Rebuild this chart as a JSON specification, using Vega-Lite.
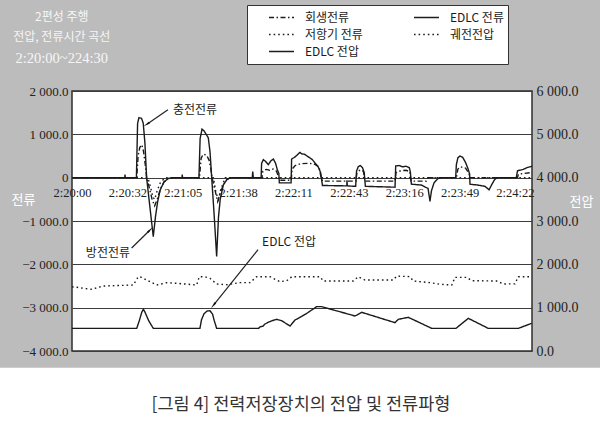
{
"$schema":"https://vega.github.io/schema/vega-lite/v6.json",
"width":460,"height":260,
"autosize":{"type":"none"},
"padding":{"left":72,"top":91,"right":68,"bottom":83},
"background":"#bcbcbc",
"config":{"view":{"fill":"white","stroke":"#2e2e2e","strokeWidth":1.5}},
"datasets":{
"cur":[
{"t":0,"I":0,"s":"EDLC 전류"},{"t":31,"I":0,"s":"EDLC 전류"},{"t":31.1,"I":70,"s":"EDLC 전류"},{"t":31.3,"I":0,"s":"EDLC 전류"},{"t":37.8,"I":0,"s":"EDLC 전류"},{"t":38.5,"I":1250,"s":"EDLC 전류"},{"t":39.3,"I":1385,"s":"EDLC 전류"},{"t":40.8,"I":1370,"s":"EDLC 전류"},{"t":41.8,"I":1260,"s":"EDLC 전류"},{"t":42.8,"I":800,"s":"EDLC 전류"},{"t":43.8,"I":0,"s":"EDLC 전류"},{"t":45.5,"I":-600,"s":"EDLC 전류"},{"t":47.7,"I":-1360,"s":"EDLC 전류"},{"t":49.0,"I":-900,"s":"EDLC 전류"},{"t":50.3,"I":-550,"s":"EDLC 전류"},{"t":51.8,"I":-280,"s":"EDLC 전류"},{"t":54,"I":-100,"s":"EDLC 전류"},{"t":56.5,"I":-20,"s":"EDLC 전류"},{"t":59,"I":0,"s":"EDLC 전류"},{"t":64.6,"I":0,"s":"EDLC 전류"},{"t":64.7,"I":70,"s":"EDLC 전류"},{"t":64.9,"I":0,"s":"EDLC 전류"},{"t":74.5,"I":0,"s":"EDLC 전류"},{"t":75.2,"I":900,"s":"EDLC 전류"},{"t":76.3,"I":1120,"s":"EDLC 전류"},{"t":77.5,"I":1080,"s":"EDLC 전류"},{"t":80,"I":920,"s":"EDLC 전류"},{"t":81,"I":600,"s":"EDLC 전류"},{"t":82,"I":0,"s":"EDLC 전류"},{"t":83.5,"I":-900,"s":"EDLC 전류"},{"t":84.9,"I":-1816,"s":"EDLC 전류"},{"t":86,"I":-900,"s":"EDLC 전류"},{"t":87,"I":-500,"s":"EDLC 전류"},{"t":88.8,"I":-170,"s":"EDLC 전류"},{"t":91,"I":-40,"s":"EDLC 전류"},{"t":93,"I":0,"s":"EDLC 전류"},{"t":105.8,"I":0,"s":"EDLC 전류"},{"t":106.1,"I":140,"s":"EDLC 전류"},{"t":106.4,"I":0,"s":"EDLC 전류"},{"t":111.0,"I":0,"s":"EDLC 전류"},{"t":111.3,"I":330,"s":"EDLC 전류"},{"t":112.3,"I":415,"s":"EDLC 전류"},{"t":113.5,"I":380,"s":"EDLC 전류"},{"t":115.2,"I":300,"s":"EDLC 전류"},{"t":116.8,"I":390,"s":"EDLC 전류"},{"t":118.2,"I":430,"s":"EDLC 전류"},{"t":119.5,"I":330,"s":"EDLC 전류"},{"t":120.5,"I":185,"s":"EDLC 전류"},{"t":121.4,"I":100,"s":"EDLC 전류"},{"t":121.7,"I":-120,"s":"EDLC 전류"},{"t":128.6,"I":-120,"s":"EDLC 전류"},{"t":128.9,"I":430,"s":"EDLC 전류"},{"t":131,"I":480,"s":"EDLC 전류"},{"t":133.8,"I":584,"s":"EDLC 전류"},{"t":134.8,"I":550,"s":"EDLC 전류"},{"t":136.5,"I":540,"s":"EDLC 전류"},{"t":138.7,"I":480,"s":"EDLC 전류"},{"t":141,"I":420,"s":"EDLC 전류"},{"t":142.6,"I":340,"s":"EDLC 전류"},{"t":144.5,"I":250,"s":"EDLC 전류"},{"t":146.0,"I":110,"s":"EDLC 전류"},{"t":147.0,"I":-180,"s":"EDLC 전류"},{"t":161.3,"I":-190,"s":"EDLC 전류"},{"t":161.4,"I":-60,"s":"EDLC 전류"},{"t":161.6,"I":-190,"s":"EDLC 전류"},{"t":166.5,"I":-200,"s":"EDLC 전류"},{"t":167.0,"I":150,"s":"EDLC 전류"},{"t":168.0,"I":250,"s":"EDLC 전류"},{"t":169.2,"I":280,"s":"EDLC 전류"},{"t":170.5,"I":230,"s":"EDLC 전류"},{"t":171.5,"I":120,"s":"EDLC 전류"},{"t":172.2,"I":-200,"s":"EDLC 전류"},{"t":189.6,"I":-220,"s":"EDLC 전류"},{"t":190.0,"I":270,"s":"EDLC 전류"},{"t":192,"I":280,"s":"EDLC 전류"},{"t":194,"I":250,"s":"EDLC 전류"},{"t":196,"I":265,"s":"EDLC 전류"},{"t":198.0,"I":230,"s":"EDLC 전류"},{"t":198.6,"I":130,"s":"EDLC 전류"},{"t":199.2,"I":-150,"s":"EDLC 전류"},{"t":205,"I":-170,"s":"EDLC 전류"},{"t":209,"I":-250,"s":"EDLC 전류"},{"t":210.1,"I":-546,"s":"EDLC 전류"},{"t":211.0,"I":-300,"s":"EDLC 전류"},{"t":212.5,"I":-120,"s":"EDLC 전류"},{"t":214.8,"I":-20,"s":"EDLC 전류"},{"t":216.5,"I":0,"s":"EDLC 전류"},{"t":225.2,"I":0,"s":"EDLC 전류"},{"t":225.6,"I":300,"s":"EDLC 전류"},{"t":226.5,"I":460,"s":"EDLC 전류"},{"t":227.7,"I":500,"s":"EDLC 전류"},{"t":229.3,"I":470,"s":"EDLC 전류"},{"t":231.0,"I":350,"s":"EDLC 전류"},{"t":232.5,"I":200,"s":"EDLC 전류"},{"t":233.4,"I":80,"s":"EDLC 전류"},{"t":233.6,"I":-150,"s":"EDLC 전류"},{"t":238,"I":-170,"s":"EDLC 전류"},{"t":242.4,"I":-200,"s":"EDLC 전류"},{"t":244.8,"I":-280,"s":"EDLC 전류"},{"t":246.5,"I":-150,"s":"EDLC 전류"},{"t":248,"I":-50,"s":"EDLC 전류"},{"t":249.3,"I":0,"s":"EDLC 전류"},{"t":260.8,"I":0,"s":"EDLC 전류"},{"t":261.5,"I":160,"s":"EDLC 전류"},{"t":264.9,"I":190,"s":"EDLC 전류"},{"t":267,"I":230,"s":"EDLC 전류"},{"t":270,"I":265,"s":"EDLC 전류"},
{"t":0,"I":0,"s":"회생전류"},{"t":38.0,"I":0,"s":"회생전류"},{"t":38.8,"I":500,"s":"회생전류"},{"t":39.8,"I":700,"s":"회생전류"},{"t":41.0,"I":760,"s":"회생전류"},{"t":42.0,"I":600,"s":"회생전류"},{"t":43.0,"I":300,"s":"회생전류"},{"t":43.8,"I":0,"s":"회생전류"},{"t":45.5,"I":-250,"s":"회생전류"},{"t":47.0,"I":-500,"s":"회생전류"},{"t":48.5,"I":-650,"s":"회생전류"},{"t":50,"I":-500,"s":"회생전류"},{"t":52,"I":-250,"s":"회생전류"},{"t":54,"I":-100,"s":"회생전류"},{"t":57,"I":0,"s":"회생전류"},{"t":74.8,"I":0,"s":"회생전류"},{"t":75.8,"I":450,"s":"회생전류"},{"t":77,"I":540,"s":"회생전류"},{"t":79,"I":520,"s":"회생전류"},{"t":80.5,"I":400,"s":"회생전류"},{"t":81.5,"I":200,"s":"회생전류"},{"t":82.2,"I":0,"s":"회생전류"},{"t":84,"I":-300,"s":"회생전류"},{"t":85.5,"I":-550,"s":"회생전류"},{"t":87,"I":-350,"s":"회생전류"},{"t":89,"I":-150,"s":"회생전류"},{"t":91,"I":-40,"s":"회생전류"},{"t":93,"I":0,"s":"회생전류"},{"t":111.5,"I":0,"s":"회생전류"},{"t":112,"I":150,"s":"회생전류"},{"t":114,"I":190,"s":"회생전류"},{"t":116,"I":170,"s":"회생전류"},{"t":118,"I":200,"s":"회생전류"},{"t":120,"I":150,"s":"회생전류"},{"t":121.5,"I":0,"s":"회생전류"},{"t":121.7,"I":-60,"s":"회생전류"},{"t":128.7,"I":-60,"s":"회생전류"},{"t":129.2,"I":200,"s":"회생전류"},{"t":131,"I":280,"s":"회생전류"},{"t":134,"I":320,"s":"회생전류"},{"t":138,"I":330,"s":"회생전류"},{"t":142,"I":320,"s":"회생전류"},{"t":145,"I":250,"s":"회생전류"},{"t":146.2,"I":0,"s":"회생전류"},{"t":147,"I":-80,"s":"회생전류"},{"t":166.6,"I":-80,"s":"회생전류"},{"t":167.2,"I":100,"s":"회생전류"},{"t":169,"I":180,"s":"회생전류"},{"t":171,"I":150,"s":"회생전류"},{"t":172,"I":-80,"s":"회생전류"},{"t":189.6,"I":-80,"s":"회생전류"},{"t":190.2,"I":120,"s":"회생전류"},{"t":193,"I":160,"s":"회생전류"},{"t":196,"I":170,"s":"회생전류"},{"t":198.3,"I":140,"s":"회생전류"},{"t":199,"I":-80,"s":"회생전류"},{"t":208,"I":-80,"s":"회생전류"},{"t":209,"I":0,"s":"회생전류"},{"t":225.6,"I":0,"s":"회생전류"},{"t":226.5,"I":200,"s":"회생전류"},{"t":228,"I":250,"s":"회생전류"},{"t":231,"I":220,"s":"회생전류"},{"t":233,"I":100,"s":"회생전류"},{"t":233.6,"I":0,"s":"회생전류"},{"t":261.5,"I":0,"s":"회생전류"},{"t":262,"I":80,"s":"회생전류"},{"t":270,"I":120,"s":"회생전류"},
{"t":0,"I":0,"s":"저항기 전류"},{"t":44.5,"I":0,"s":"저항기 전류"},{"t":46,"I":-200,"s":"저항기 전류"},{"t":47.5,"I":-450,"s":"저항기 전류"},{"t":48.5,"I":-500,"s":"저항기 전류"},{"t":50,"I":-300,"s":"저항기 전류"},{"t":52,"I":-100,"s":"저항기 전류"},{"t":55,"I":0,"s":"저항기 전류"},{"t":83,"I":0,"s":"저항기 전류"},{"t":84.5,"I":-350,"s":"저항기 전류"},{"t":86,"I":-500,"s":"저항기 전류"},{"t":87.5,"I":-250,"s":"저항기 전류"},{"t":90,"I":0,"s":"저항기 전류"},{"t":270,"I":0,"s":"저항기 전류"}
],
"vol":[
{"t":0,"V":1480,"s":"궤전전압"},{"t":2.8,"V":1470,"s":"궤전전압"},{"t":8,"V":1440,"s":"궤전전압"},{"t":11.6,"V":1424,"s":"궤전전압"},{"t":18.4,"V":1500,"s":"궤전전압"},{"t":36.0,"V":1523,"s":"궤전전압"},{"t":38.9,"V":1715,"s":"궤전전압"},{"t":41,"V":1700,"s":"궤전전압"},{"t":43.8,"V":1638,"s":"궤전전압"},{"t":49.7,"V":1523,"s":"궤전전압"},{"t":55.6,"V":1577,"s":"궤전전압"},{"t":62,"V":1560,"s":"궤전전압"},{"t":73.2,"V":1523,"s":"궤전전압"},{"t":74.7,"V":1715,"s":"궤전전압"},{"t":78,"V":1715,"s":"궤전전압"},{"t":81.0,"V":1677,"s":"궤전전압"},{"t":84.9,"V":1546,"s":"궤전전압"},{"t":91,"V":1530,"s":"궤전전압"},{"t":98.6,"V":1577,"s":"궤전전압"},{"t":104.5,"V":1577,"s":"궤전전압"},{"t":108.4,"V":1715,"s":"궤전전압"},{"t":116.2,"V":1715,"s":"궤전전압"},{"t":122.1,"V":1600,"s":"궤전전압"},{"t":126,"V":1620,"s":"궤전전압"},{"t":129.0,"V":1715,"s":"궤전전압"},{"t":145.6,"V":1715,"s":"궤전전압"},{"t":147.5,"V":1615,"s":"궤전전압"},{"t":165.1,"V":1615,"s":"궤전전압"},{"t":168.0,"V":1715,"s":"궤전전압"},{"t":172.0,"V":1638,"s":"궤전전압"},{"t":188.6,"V":1638,"s":"궤전전압"},{"t":190.6,"V":1730,"s":"궤전전압"},{"t":198.4,"V":1715,"s":"궤전전압"},{"t":200.3,"V":1615,"s":"궤전전압"},{"t":210.1,"V":1577,"s":"궤전전압"},{"t":216,"V":1540,"s":"궤전전압"},{"t":222.9,"V":1523,"s":"궤전전압"},{"t":224.8,"V":1700,"s":"궤전전압"},{"t":231.7,"V":1700,"s":"궤전전압"},{"t":234.6,"V":1623,"s":"궤전전압"},{"t":249.3,"V":1615,"s":"궤전전압"},{"t":253.2,"V":1546,"s":"궤전전압"},{"t":260.0,"V":1550,"s":"궤전전압"},{"t":262.0,"V":1715,"s":"궤전전압"},{"t":270,"V":1715,"s":"궤전전압"},
{"t":0,"V":523,"s":"EDLC 전압"},{"t":38.0,"V":523,"s":"EDLC 전압"},{"t":39.5,"V":700,"s":"EDLC 전압"},{"t":41.0,"V":900,"s":"EDLC 전압"},{"t":41.9,"V":962,"s":"EDLC 전압"},{"t":42.8,"V":900,"s":"EDLC 전압"},{"t":45,"V":700,"s":"EDLC 전압"},{"t":47.7,"V":523,"s":"EDLC 전압"},{"t":75.1,"V":523,"s":"EDLC 전압"},{"t":76,"V":720,"s":"EDLC 전압"},{"t":77.5,"V":860,"s":"EDLC 전압"},{"t":79.2,"V":920,"s":"EDLC 전압"},{"t":81.0,"V":930,"s":"EDLC 전압"},{"t":82.5,"V":850,"s":"EDLC 전압"},{"t":83.5,"V":700,"s":"EDLC 전압"},{"t":84.9,"V":523,"s":"EDLC 전압"},{"t":109.5,"V":523,"s":"EDLC 전압"},{"t":110.5,"V":560,"s":"EDLC 전압"},{"t":112,"V":570,"s":"EDLC 전압"},{"t":113.3,"V":623,"s":"EDLC 전압"},{"t":115,"V":660,"s":"EDLC 전압"},{"t":117.5,"V":700,"s":"EDLC 전압"},{"t":120.2,"V":731,"s":"EDLC 전압"},{"t":123,"V":700,"s":"EDLC 전압"},{"t":128.0,"V":577,"s":"EDLC 전압"},{"t":130.9,"V":715,"s":"EDLC 전압"},{"t":133,"V":760,"s":"EDLC 전압"},{"t":137.8,"V":869,"s":"EDLC 전압"},{"t":143.6,"V":1023,"s":"EDLC 전압"},{"t":146.6,"V":1023,"s":"EDLC 전압"},{"t":166.1,"V":808,"s":"EDLC 전압"},{"t":170.1,"V":892,"s":"EDLC 전압"},{"t":189.6,"V":654,"s":"EDLC 전압"},{"t":191.5,"V":731,"s":"EDLC 전압"},{"t":197.4,"V":777,"s":"EDLC 전압"},{"t":211.1,"V":523,"s":"EDLC 전압"},{"t":225.4,"V":523,"s":"EDLC 전압"},{"t":232.6,"V":754,"s":"EDLC 전압"},{"t":244.3,"V":523,"s":"EDLC 전압"},{"t":262.0,"V":523,"s":"EDLC 전압"},{"t":269.8,"V":638,"s":"EDLC 전압"}
]
},
"layer":[
{"layer":[
 {"data":{"values":[{}]},"mark":{"type":"rect","color":"white"},
  "encoding":{"x":{"datum":-50,"type":"quantitative","scale":{"domain":[0,270],"nice":false,"zero":false}},"x2":{"datum":320},
   "y":{"datum":-4385,"type":"quantitative","scale":{"domain":[-4000,2000],"nice":false,"zero":false}},"y2":{"datum":-6500}}},
 {"data":{"name":"cur"},"mark":{"type":"line","color":"#1a1a1a","strokeWidth":1.4},
  "encoding":{
   "x":{"field":"t","type":"quantitative","scale":{"domain":[0,270],"nice":false,"zero":false},
     "axis":{"values":[0,32.5,65,97.5,130,162.5,195,227.5,260],"labelExpr":"['2:20:00','2:20:32','2:21:05','2:21:38','2:22:11','2:22:43','2:23:16','2:23:49','2:24:22'][round(datum.value/32.5)]","offset":-173,"domain":false,"ticks":false,"grid":false,"labelPadding":8,"labelFont":"Liberation Serif","labelFontSize":12.5,"labelColor":"#222","title":null,"labelOverlap":false,"labelFlush":false}},
   "y":{"field":"I","type":"quantitative","scale":{"domain":[-4000,2000],"nice":false,"zero":false},
     "axis":{"values":[-4000,-3000,-2000,-1000,0,1000,2000],"labelExpr":"datum.value==0?'0\u00a0\u00a0\u00a0':(datum.value<0?'−':'')+abs(datum.value)/1000+' 000.0'","grid":true,"gridColor":"#3c3c3c","gridWidth":1,"domain":false,"ticks":false,"labelPadding":4,"labelFontSize":13,"labelFont":"Liberation Serif","labelColor":"#222","labelOverlap":false,"title":"전류","titleAngle":0,"titleX":-49,"titleY":108,"titleAlign":"center","titleBaseline":"middle","titleColor":"#ffffff","titleFont":"Noto Sans CJK KR","titleFontSize":13,"titleFontWeight":"normal"}},
   "strokeDash":{"field":"s","type":"nominal","scale":{"domain":["회생전류","EDLC 전류","저항기 전류","궤전전압","EDLC 전압"],"range":[[5,2.5,1.5,2.5],[1,0],[1.6,3],[1.6,3],[1,0]]},
     "legend":{"orient":"none","legendX":175,"legendY":-86,"columns":2,"direction":"horizontal","title":"\u00a0","titleOrient":"left","titlePadding":17,"titleFontSize":10,"padding":4,"fillColor":"white","strokeColor":"#333","symbolType":"stroke","symbolSize":625,"symbolStrokeWidth":1.3,"symbolStrokeColor":"#1e1e1e","labelFont":"Noto Sans CJK KR","labelFontSize":12,"labelColor":"#1a1a1a","labelOffset":10,"columnPadding":50,"rowPadding":0,"clipHeight":17,"gridAlign":"all"}}
  }},
 {"data":{"values":[{}]},"mark":{"type":"rule","color":"#222","strokeWidth":1.2},
  "encoding":{"x":{"datum":56.3,"type":"quantitative","scale":{"domain":[0,270],"nice":false,"zero":false}},"y":{"datum":1569,"type":"quantitative","scale":{"domain":[-4000,2000],"nice":false,"zero":false}},"x2":{"datum":44.2},"y2":{"datum":1240}}},
 {"data":{"values":[{}]},"mark":{"type":"rule","color":"#222","strokeWidth":1.2},
  "encoding":{"x":{"datum":35.0,"type":"quantitative","scale":{"domain":[0,270],"nice":false,"zero":false}},"y":{"datum":-1622,"type":"quantitative","scale":{"domain":[-4000,2000],"nice":false,"zero":false}},"x2":{"datum":45.5},"y2":{"datum":-1220}}},
 {"data":{"values":[{}]},"mark":{"type":"rule","color":"#222","strokeWidth":1.2},
  "encoding":{"x":{"datum":109.2,"type":"quantitative","scale":{"domain":[0,270],"nice":false,"zero":false}},"y":{"datum":-1662,"type":"quantitative","scale":{"domain":[-4000,2000],"nice":false,"zero":false}},"x2":{"datum":83.3},"y2":{"datum":-2930}}},
 {"data":{"values":[{}]},"mark":{"type":"point","shape":"wedge","filled":true,"color":"#111","size":70,"angle":238,"opacity":1},
  "encoding":{"x":{"datum":44.2,"type":"quantitative","scale":{"domain":[0,270],"nice":false,"zero":false}},"y":{"datum":1240,"type":"quantitative","scale":{"domain":[-4000,2000],"nice":false,"zero":false}}}},
 {"data":{"values":[{}]},"mark":{"type":"point","shape":"wedge","filled":true,"color":"#111","size":70,"angle":45,"opacity":1},
  "encoding":{"x":{"datum":45.5,"type":"quantitative","scale":{"domain":[0,270],"nice":false,"zero":false}},"y":{"datum":-1220,"type":"quantitative","scale":{"domain":[-4000,2000],"nice":false,"zero":false}}}},
 {"data":{"values":[{}]},"mark":{"type":"point","shape":"wedge","filled":true,"color":"#111","size":70,"angle":219,"opacity":1},
  "encoding":{"x":{"datum":83.3,"type":"quantitative","scale":{"domain":[0,270],"nice":false,"zero":false}},"y":{"datum":-2930,"type":"quantitative","scale":{"domain":[-4000,2000],"nice":false,"zero":false}}}},
 {"data":{"values":[{}]},"mark":{"type":"text","text":"충전전류","font":"Noto Sans CJK KR","fontSize":12,"color":"#1a1a1a","align":"center","baseline":"middle"},
  "encoding":{"x":{"datum":72.2,"type":"quantitative","scale":{"domain":[0,270],"nice":false,"zero":false}},"y":{"datum":1569,"type":"quantitative","scale":{"domain":[-4000,2000],"nice":false,"zero":false}}}},
 {"data":{"values":[{}]},"mark":{"type":"text","text":"방전전류","font":"Noto Sans CJK KR","fontSize":12,"color":"#1a1a1a","align":"center","baseline":"middle"},
  "encoding":{"x":{"datum":21.1,"type":"quantitative","scale":{"domain":[0,270],"nice":false,"zero":false}},"y":{"datum":-1731,"type":"quantitative","scale":{"domain":[-4000,2000],"nice":false,"zero":false}}}},
 {"data":{"values":[{}]},"mark":{"type":"text","text":"EDLC 전압","font":"Noto Sans CJK KR","fontSize":12,"color":"#1a1a1a","align":"center","baseline":"middle"},
  "encoding":{"x":{"datum":127.4,"type":"quantitative","scale":{"domain":[0,270],"nice":false,"zero":false}},"y":{"datum":-1477,"type":"quantitative","scale":{"domain":[-4000,2000],"nice":false,"zero":false}}}},
 {"data":{"values":[{}]},"mark":{"type":"text","text":"2편성 주행","font":"Noto Sans CJK KR","fontSize":12,"color":"#f6f6f6","align":"center","baseline":"middle"},
  "encoding":{"x":{"datum":-6,"type":"quantitative","scale":{"domain":[0,270],"nice":false,"zero":false}},"y":{"datum":3716,"type":"quantitative","scale":{"domain":[-4000,2000],"nice":false,"zero":false}}}},
 {"data":{"values":[{}]},"mark":{"type":"text","text":"전압, 전류시간 곡선","font":"Noto Sans CJK KR","fontSize":12,"color":"#f6f6f6","align":"center","baseline":"middle"},
  "encoding":{"x":{"datum":-6,"type":"quantitative","scale":{"domain":[0,270],"nice":false,"zero":false}},"y":{"datum":3254,"type":"quantitative","scale":{"domain":[-4000,2000],"nice":false,"zero":false}}}},
 {"data":{"values":[{}]},"mark":{"type":"text","text":"2:20:00~224:30","font":"Liberation Serif","fontSize":14.5,"color":"#f6f6f6","align":"center","baseline":"middle"},
  "encoding":{"x":{"datum":-6,"type":"quantitative","scale":{"domain":[0,270],"nice":false,"zero":false}},"y":{"datum":2740,"type":"quantitative","scale":{"domain":[-4000,2000],"nice":false,"zero":false}}}},
 {"data":{"values":[{}]},"mark":{"type":"text","text":"[그림 4] 전력저장장치의 전압 및 전류파형","font":"Noto Sans CJK KR","fontSize":17.5,"color":"#333","align":"center","baseline":"middle"},
  "encoding":{"x":{"datum":134.4,"type":"quantitative","scale":{"domain":[0,270],"nice":false,"zero":false}},"y":{"datum":-5250,"type":"quantitative","scale":{"domain":[-4000,2000],"nice":false,"zero":false}}}}
]},
{"layer":[
 {"data":{"name":"vol"},"mark":{"type":"line","color":"#1a1a1a","strokeWidth":1.4},
  "encoding":{
   "x":{"field":"t","type":"quantitative","scale":{"domain":[0,270],"nice":false,"zero":false}},
   "y":{"field":"V","type":"quantitative","scale":{"domain":[0,6000],"nice":false,"zero":false},
     "axis":{"orient":"right","values":[0,1000,2000,3000,4000,5000,6000],"labelExpr":"datum.value==0?'0.0':datum.value/1000+' 000.0'","grid":false,"domain":false,"ticks":false,"labelPadding":4,"labelFontSize":14,"labelFont":"Liberation Serif","labelColor":"#222","labelOverlap":false,"title":"전압","titleAngle":0,"titleX":49,"titleY":110,"titleAlign":"center","titleBaseline":"middle","titleColor":"#ffffff","titleFont":"Noto Sans CJK KR","titleFontSize":13,"titleFontWeight":"normal"}},
   "strokeDash":{"field":"s","type":"nominal","scale":{"domain":["회생전류","EDLC 전류","저항기 전류","궤전전압","EDLC 전압"],"range":[[5,2.5,1.5,2.5],[1,0],[1.6,3],[1.6,3],[1,0]]},
     "legend":{"orient":"none","legendX":175,"legendY":-86,"columns":2,"direction":"horizontal","title":"\u00a0","titleOrient":"left","titlePadding":17,"titleFontSize":10,"padding":4,"fillColor":"white","strokeColor":"#333","symbolType":"stroke","symbolSize":625,"symbolStrokeWidth":1.3,"symbolStrokeColor":"#1e1e1e","labelFont":"Noto Sans CJK KR","labelFontSize":12,"labelColor":"#1a1a1a","labelOffset":10,"columnPadding":50,"rowPadding":0,"clipHeight":17,"gridAlign":"all"}}
  }}
]}
],
"resolve":{"scale":{"y":"independent"}}
}
